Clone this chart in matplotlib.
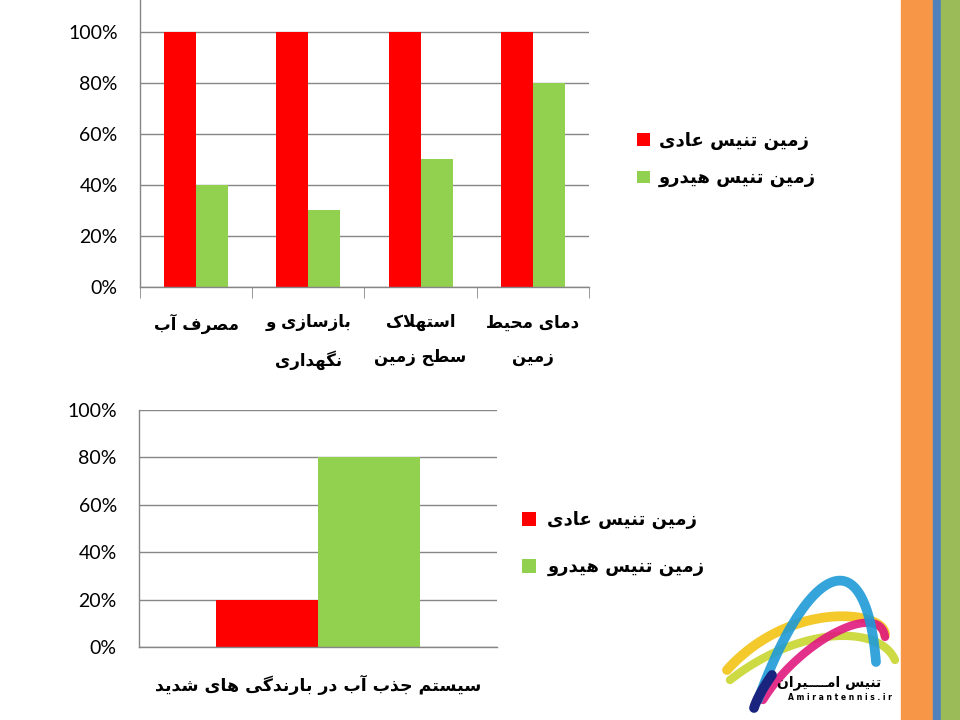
import numpy as np
import matplotlib.pyplot as plt
from matplotlib.patches import Rectangle

# داده‌ها
categories_top = ['مصرف آب', 'بازسازی و\nنگهداری', 'استهلاک\nسطح زمین', 'دمای محیط\nزمین']
normal_top = [1.00, 1.00, 1.00, 1.00]
hydro_top = [0.40, 0.30, 0.50, 0.80]

categories_bottom = ['سیستم جذب آب در بارندگی های شدید']
normal_bottom = [0.20]
hydro_bottom = [0.80]

series_names = ['زمین تنیس عادی', 'زمین تنیس هیدرو']
y_ticks = [0, 0.2, 0.4, 0.6, 0.8, 1.0]
y_tick_labels = ['0%', '20%', '40%', '60%', '80%', '100%']

RED = '#FF0000'
GREEN = '#92D050'
GRAY = '#868686'

# matplotlib حروف فارسی را به هم نمی‌چسباند، پس شکل‌های نمایشی را خودمان می‌سازیم
FORMS = {
    'ا': ('\uFE8D', '\uFE8E'), 'آ': ('\uFE81', '\uFE82'),
    'د': ('\uFEA9', '\uFEAA'), 'ذ': ('\uFEAB', '\uFEAC'),
    'ر': ('\uFEAD', '\uFEAE'), 'ز': ('\uFEAF', '\uFEB0'),
    'و': ('\uFEED', '\uFEEE'),
    'ب': ('\uFE8F', '\uFE90', '\uFE91', '\uFE92'),
    'ت': ('\uFE95', '\uFE96', '\uFE97', '\uFE98'),
    'ج': ('\uFE9D', '\uFE9E', '\uFE9F', '\uFEA0'),
    'ح': ('\uFEA1', '\uFEA2', '\uFEA3', '\uFEA4'),
    'س': ('\uFEB1', '\uFEB2', '\uFEB3', '\uFEB4'),
    'ش': ('\uFEB5', '\uFEB6', '\uFEB7', '\uFEB8'),
    'ص': ('\uFEB9', '\uFEBA', '\uFEBB', '\uFEBC'),
    'ط': ('\uFEC1', '\uFEC2', '\uFEC3', '\uFEC4'),
    'ع': ('\uFEC9', '\uFECA', '\uFECB', '\uFECC'),
    'ف': ('\uFED1', '\uFED2', '\uFED3', '\uFED4'),
    'ل': ('\uFEDD', '\uFEDE', '\uFEDF', '\uFEE0'),
    'م': ('\uFEE1', '\uFEE2', '\uFEE3', '\uFEE4'),
    'ن': ('\uFEE5', '\uFEE6', '\uFEE7', '\uFEE8'),
    'ه': ('\uFEE9', '\uFEEA', '\uFEEB', '\uFEEC'),
    '\u06CC': ('\uFBFC', '\uFBFD', '\uFBFE', '\uFBFF'),
    '\u064A': ('\uFEF1', '\uFEF2', '\uFEF3', '\uFEF4'),
    '\u06A9': ('\uFB8E', '\uFB8F', '\uFB90', '\uFB91'),
    '\u0643': ('\uFED9', '\uFEDA', '\uFEDB', '\uFEDC'),
    'گ': ('\uFB92', '\uFB93', '\uFB94', '\uFB95'),
}
DUAL = {c for c, f in FORMS.items() if len(f) == 4} | {'\u0640'}
JOIN = set(FORMS) | {'\u0640'}


def shape_line(s):
    out = []
    i = 0
    while i < len(s):
        c = s[i]
        prev = s[i - 1] if i > 0 else ''
        join_prev = prev in DUAL
        if c not in FORMS:
            out.append(c)
            i += 1
            continue
        if c == 'ل' and i + 1 < len(s) and s[i + 1] in 'اآ':
            lig = {'ا': ('\uFEFB', '\uFEFC'), 'آ': ('\uFEF5', '\uFEF6')}[s[i + 1]]
            out.append(lig[1] if join_prev else lig[0])
            i += 2
            continue
        nxt = s[i + 1] if i + 1 < len(s) else ''
        join_next = c in DUAL and nxt in JOIN
        f = FORMS[c]
        if len(f) == 2:
            out.append(f[1] if join_prev else f[0])
        elif join_prev and join_next:
            out.append(f[3])
        elif join_prev:
            out.append(f[1])
        elif join_next:
            out.append(f[2])
        else:
            out.append(f[0])
        i += 1
    return ''.join(reversed(out))


def fa(s):
    return '\n'.join(shape_line(line) for line in s.split('\n'))


plt.rcParams['font.family'] = ['Lato', 'DejaVu Sans']
FA_FONT = 'DejaVu Sans'

fig = plt.figure(figsize=(9.6, 7.2), dpi=100)


def style_axes(ax):
    ax.set_yticks(y_ticks, y_tick_labels)
    ax.tick_params(axis='y', length=0, labelsize=14, pad=16)
    ax.grid(axis='y', color=GRAY, linewidth=1)
    ax.set_axisbelow(True)
    for side in ['top', 'right']:
        ax.spines[side].set_visible(False)
    for side in ['left', 'bottom']:
        ax.spines[side].set_color(GRAY)
        ax.spines[side].set_linewidth(1)


w = 0.285

# نمودار بالا
ax1 = fig.add_axes([0.1458, 0.6014, 0.4677, 0.3986])
x1 = np.arange(len(categories_top))
b1 = ax1.bar(x1 - w / 2, normal_top, w, color=RED)
b2 = ax1.bar(x1 + w / 2, hydro_top, w, color=GREEN)
ax1.set_xlim(-0.5, len(categories_top) - 0.5)
ax1.set_ylim(0, 1.1255)
style_axes(ax1)
ax1.set_xticks(x1, [fa(c) for c in categories_top])
ax1.set_xticks(np.arange(len(categories_top) + 1) - 0.5, minor=True)
ax1.tick_params(axis='x', which='major', length=0, pad=19)
ax1.tick_params(axis='x', which='minor', length=8, color=GRAY, direction='out')
for lab in ax1.get_xticklabels():
    lab.set_family(FA_FONT)
    lab.set_weight('bold')
    lab.set_fontsize(12)
    lab.set_linespacing(2.2)
    lab.set_verticalalignment('top')
ax1.legend([b1, b2], [fa(s) for s in series_names], loc='upper left',
           bbox_to_anchor=(637 / 960, 1 - 132 / 720), bbox_transform=fig.transFigure,
           frameon=False, handlelength=0.7, handleheight=0.7, handletextpad=0.5,
           labelspacing=1.05, borderpad=0, borderaxespad=0,
           prop={'family': FA_FONT, 'weight': 'bold', 'size': 13})

# نمودار پایین
ax2 = fig.add_axes([0.1448, 0.1014, 0.3729, 0.3292])
x2 = np.arange(len(categories_bottom))
c1 = ax2.bar(x2 - w / 2, normal_bottom, w, color=RED)
c2 = ax2.bar(x2 + w / 2, hydro_bottom, w, color=GREEN)
ax2.set_xlim(-0.5, 0.5)
ax2.set_ylim(0, 1.0)
style_axes(ax2)
ax2.set_xticks(x2, [fa(c) for c in categories_bottom])
ax2.tick_params(axis='x', length=0, pad=20)
for lab in ax2.get_xticklabels():
    lab.set_family(FA_FONT)
    lab.set_weight('bold')
    lab.set_fontsize(12.5)
ax2.legend([c1, c2], [fa(s) for s in series_names], loc='upper left',
           bbox_to_anchor=(522 / 960, 1 - 511 / 720), bbox_transform=fig.transFigure,
           frameon=False, handlelength=0.8, handleheight=0.8, handletextpad=0.6,
           labelspacing=1.6, borderpad=0, borderaxespad=0,
           prop={'family': FA_FONT, 'weight': 'bold', 'size': 13})

# نوارهای کناری اسلاید
fig.patches.append(Rectangle((901 / 960, 0), 32 / 960, 1, transform=fig.transFigure, color='#F79646', zorder=0))
fig.patches.append(Rectangle((933 / 960, 0), 8 / 960, 1, transform=fig.transFigure, color='#4F81BD', zorder=0))
fig.patches.append(Rectangle((941 / 960, 0), 19 / 960, 1, transform=fig.transFigure, color='#9BBB59', zorder=0))

# لوگو
logo = fig.add_axes([0, 0, 1, 1], zorder=-1)
logo.set_xlim(0, 960)
logo.set_ylim(720, 0)
logo.axis('off')


def bez(pts, n=80):
    t = np.linspace(0, 1, n)[:, None]
    p = [np.array(q, dtype=float) for q in pts]
    if len(p) == 3:
        r = (1 - t) ** 2 * p[0] + 2 * (1 - t) * t * p[1] + t ** 2 * p[2]
    else:
        r = (1 - t) ** 3 * p[0] + 3 * (1 - t) ** 2 * t * p[1] + 3 * (1 - t) * t ** 2 * p[2] + t ** 3 * p[3]
    return r[:, 0], r[:, 1]


for pts, col, lw in [
    (((727, 670), (790, 600), (885, 610), (885, 635)), '#F2C314', 7),
    (((730, 680), (800, 625), (880, 625), (895, 660)), '#C8D630', 6),
    (((763, 700), (800, 640), (880, 600), (885, 637)), '#E0197E', 6),
    (((758, 700), (805, 570), (865, 530), (876, 662)), '#1E9AD6', 7),
]:
    xs, ys = bez(pts)
    logo.plot(xs, ys, color=col, lw=lw, solid_capstyle='round', alpha=0.9)
xs, ys = bez(((754, 708), (758, 695), (772, 675)))
logo.plot(xs, ys, color='#1A237E', lw=7, solid_capstyle='round')
logo.text(881, 683, fa('تنیس امــــیران'), family=FA_FONT, weight='bold', fontsize=10,
          ha='right', va='center', color='black')
logo.text(788, 698, 'A m i r a n t e n n i s . i r', family='DejaVu Sans', weight='bold',
          fontsize=5.5, ha='left', va='center', color='black')

fig.savefig('out.png', dpi=100)
